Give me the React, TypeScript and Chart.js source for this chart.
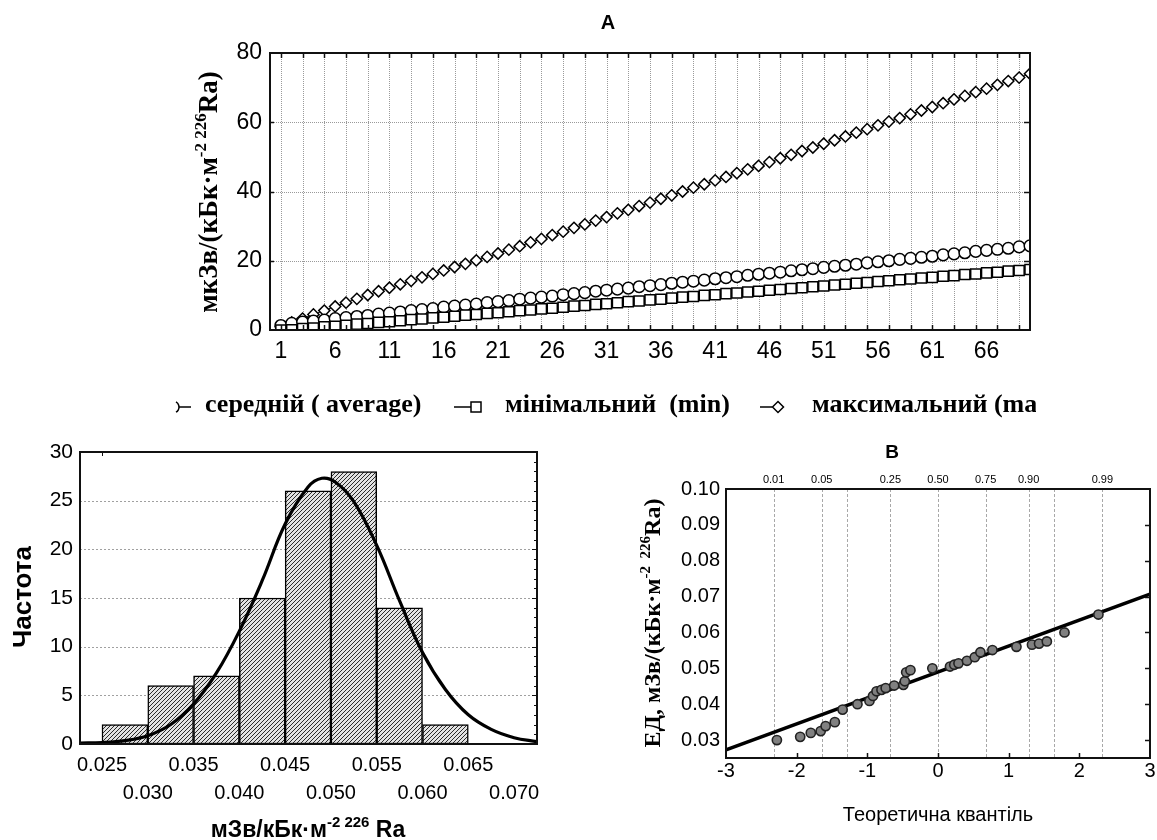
import React, { useEffect, useRef } from 'react';
import { Chart, registerables } from 'chart.js';

Chart.register(...registerables);

const SANS = '"Liberation Sans", Arial, sans-serif';
const SERIF = '"Liberation Serif", "Times New Roman", serif';

// ---------------- Chart A : dose by index ----------------
const indexA = [
  1, 2, 3, 4, 5, 6, 7, 8, 9, 10, 11, 12, 13, 14, 15, 16, 17, 18, 19, 20,
  21, 22, 23, 24, 25, 26, 27, 28, 29, 30, 31, 32, 33, 34, 35, 36, 37, 38, 39, 40,
  41, 42, 43, 44, 45, 46, 47, 48, 49, 50, 51, 52, 53, 54, 55, 56, 57, 58, 59, 60,
  61, 62, 63, 64, 65, 66, 67, 68, 69, 70,
];
const avgDose = [
  1.3, 1.9, 2.3, 2.6, 2.9, 3.3, 3.6, 3.9, 4.2, 4.6,
  4.9, 5.2, 5.6, 5.9, 6.2, 6.6, 6.9, 7.2, 7.5, 7.9,
  8.2, 8.5, 8.9, 9.2, 9.5, 9.8, 10.2, 10.5, 10.8, 11.2,
  11.5, 11.8, 12.1, 12.5, 12.8, 13.1, 13.5, 13.8, 14.1, 14.4,
  14.8, 15.1, 15.4, 15.8, 16.1, 16.4, 16.7, 17.1, 17.4, 17.7,
  18.1, 18.4, 18.7, 19.0, 19.4, 19.7, 20.0, 20.4, 20.7, 21.0,
  21.3, 21.7, 22.0, 22.3, 22.7, 23.0, 23.3, 23.6, 24.0, 24.3,
];
const minDose = [
  0.0, 0.1, 0.4, 0.6, 0.9, 1.1, 1.4, 1.7, 1.9, 2.2,
  2.4, 2.7, 3.0, 3.2, 3.5, 3.7, 4.0, 4.3, 4.5, 4.8,
  5.0, 5.3, 5.6, 5.8, 6.1, 6.3, 6.6, 6.9, 7.1, 7.4,
  7.6, 7.9, 8.2, 8.4, 8.7, 8.9, 9.2, 9.5, 9.7, 10.0,
  10.2, 10.5, 10.7, 11.0, 11.2, 11.5, 11.7, 12.0, 12.2, 12.5,
  12.7, 13.0, 13.2, 13.5, 13.7, 14.0, 14.2, 14.5, 14.7, 15.0,
  15.2, 15.5, 15.7, 16.0, 16.2, 16.5, 16.7, 17.0, 17.2, 17.5,
];
const maxDose = [
  1.0, 2.2, 3.3, 4.5, 5.6, 6.8, 7.9, 9.0, 10.1, 11.2,
  12.2, 13.2, 14.2, 15.2, 16.2, 17.2, 18.2, 19.1, 20.1, 21.1,
  22.1, 23.2, 24.2, 25.3, 26.3, 27.4, 28.4, 29.5, 30.5, 31.6,
  32.6, 33.7, 34.7, 35.8, 36.8, 37.9, 38.9, 40.0, 41.1, 42.1,
  43.2, 44.2, 45.3, 46.4, 47.4, 48.5, 49.6, 50.6, 51.7, 52.7,
  53.8, 54.8, 55.9, 57.0, 58.0, 59.1, 60.2, 61.2, 62.3, 63.4,
  64.4, 65.5, 66.6, 67.6, 68.7, 69.7, 70.8, 71.9, 72.9, 74.0,
];
const xLabelsA = [1, 6, 11, 16, 21, 26, 31, 36, 41, 46, 51, 56, 61, 66];
const xGridA = [1, 3, 5, 7, 9, 11, 13, 15, 17, 19, 21, 23, 25, 27, 29, 31, 33, 35, 37, 39, 41, 43, 45, 47, 49, 51, 53, 55, 57, 59, 61, 63, 65, 67, 69];
const yTicksA = [0, 20, 40, 60, 80];
const legendLabelsA = ['середній ( average)', 'мінімальний  (min)', 'максимальний (max)'];

// ---------------- Chart B : histogram ----------------
const binStarts = [0.025, 0.03, 0.035, 0.04, 0.045, 0.05, 0.055, 0.06];
const binCounts = [2, 6, 7, 15, 26, 28, 14, 2];
const binWidth = 0.005;
const curveX = [0.0226, 0.025, 0.0275, 0.03, 0.0325, 0.035, 0.0375, 0.04, 0.0425, 0.045, 0.0475, 0.049, 0.0505, 0.0525, 0.055, 0.0575, 0.06, 0.0625, 0.065, 0.0675, 0.07, 0.0725];
const curveY = [0.1, 0.15, 0.35, 0.85, 2.0, 4.1, 7.3, 11.6, 16.8, 22.6, 26.4, 27.3, 26.9, 24.9, 20.4, 14.7, 9.4, 5.6, 3.0, 1.5, 0.65, 0.25];
const histXTicks = [0.025, 0.03, 0.035, 0.04, 0.045, 0.05, 0.055, 0.06, 0.065, 0.07];
const histYTicks = [0, 5, 10, 15, 20, 25, 30];

// ---------------- Chart C : normal probability plot ----------------
const qqTheoretical = [-2.28, -1.95, -1.8, -1.66, -1.59, -1.46, -1.35, -1.14, -0.97, -0.92, -0.87, -0.8, -0.74, -0.62, -0.49, -0.47, -0.45, -0.39, -0.08, 0.17, 0.23, 0.29, 0.41, 0.52, 0.6, 0.77, 1.11, 1.33, 1.43, 1.54, 1.79, 2.27];
const qqObserved = [0.03, 0.0309, 0.032, 0.0325, 0.0339, 0.035, 0.0385, 0.04, 0.0409, 0.0423, 0.0436, 0.044, 0.0445, 0.0452, 0.0454, 0.0464, 0.0489, 0.0495, 0.05, 0.0505, 0.051, 0.0514, 0.0521, 0.0531, 0.0545, 0.0551, 0.056, 0.0566, 0.0569, 0.0575, 0.06, 0.065];
const fitX = [-3, 3];
const fitY = [0.0273, 0.0707];
const probZ = [-2.326, -1.645, -1.282, -0.674, 0, 0.674, 1.282, 1.645, 2.326];
const probLabels = ['0.01', '0.05', '', '0.25', '0.50', '0.75', '0.90', '', '0.99'];
const probXTicks = [-3, -2, -1, 0, 1, 2, 3];
const probYTicks = [0.03, 0.04, 0.05, 0.06, 0.07, 0.08, 0.09, 0.1];

type Seg = { t: string; sup?: boolean };

function drawRich(ctx: CanvasRenderingContext2D, segs: Seg[], cx: number, cy: number, size: number, family: string, weight: string, rotate: boolean) {
  ctx.save();
  const supSize = Math.round(size * 0.64);
  const fN = `${weight} ${size}px ${family}`;
  const fS = `${weight} ${supSize}px ${family}`;
  let total = 0;
  const widths = segs.map((s) => {
    ctx.font = s.sup ? fS : fN;
    const w = ctx.measureText(s.t).width;
    total += w;
    return w;
  });
  ctx.translate(cx, cy);
  if (rotate) ctx.rotate(-Math.PI / 2);
  ctx.fillStyle = '#000';
  ctx.textAlign = 'left';
  ctx.textBaseline = 'alphabetic';
  let x = -total / 2;
  const base = size * 0.34;
  segs.forEach((s, i) => {
    ctx.font = s.sup ? fS : fN;
    ctx.fillText(s.t, x, s.sup ? base - size * 0.42 : base);
    x += widths[i];
  });
  ctx.restore();
}

function seg(ctx: CanvasRenderingContext2D, x1: number, y1: number, x2: number, y2: number) {
  ctx.beginPath();
  ctx.moveTo(x1, y1);
  ctx.lineTo(x2, y2);
  ctx.stroke();
}

function frame(ctx: CanvasRenderingContext2D, a: any) {
  ctx.save();
  ctx.setLineDash([]);
  ctx.strokeStyle = '#111';
  ctx.lineWidth = 2;
  ctx.strokeRect(a.left, a.top, a.right - a.left, a.bottom - a.top);
  ctx.restore();
}

function text(ctx: CanvasRenderingContext2D, s: string, x: number, y: number, font: string, align: CanvasTextAlign = 'center') {
  ctx.save();
  ctx.font = font;
  ctx.fillStyle = '#000';
  ctx.textAlign = align;
  ctx.textBaseline = 'middle';
  ctx.fillText(s, x, y);
  ctx.restore();
}

const plotA = {
  id: 'plotA',
  beforeDatasetsDraw(chart: any) {
    const { ctx, chartArea: a, scales } = chart;
    const x = scales.x, y = scales.y;
    ctx.save();
    ctx.strokeStyle = '#9a9a9a';
    ctx.lineWidth = 1;
    ctx.setLineDash([1, 1]);
    xGridA.forEach((v) => {
      const px = Math.round(x.getPixelForValue(v)) + 0.5;
      seg(ctx, px, a.top, px, a.bottom);
    });
    yTicksA.slice(1, -1).forEach((v) => {
      const py = Math.round(y.getPixelForValue(v)) + 0.5;
      seg(ctx, a.left, py, a.right, py);
    });
    ctx.restore();
  },
  afterDatasetsDraw(chart: any) {
    const { ctx, chartArea: a, scales } = chart;
    const x = scales.x, y = scales.y;
    frame(ctx, a);
    ctx.save();
    ctx.strokeStyle = '#111';
    ctx.lineWidth = 1.5;
    xGridA.forEach((v) => {
      const px = Math.round(x.getPixelForValue(v)) + 0.5;
      seg(ctx, px, a.top, px, a.top + 5);
      seg(ctx, px, a.bottom, px, a.bottom - 5);
    });
    yTicksA.slice(1, -1).forEach((v) => {
      const py = Math.round(y.getPixelForValue(v)) + 0.5;
      seg(ctx, a.right, py, a.right - 6, py);
      seg(ctx, a.left, py, a.left + 4, py);
    });
    ctx.restore();
  },
  afterDraw(chart: any) {
    const { ctx } = chart;
    text(ctx, 'A', 608, 23, `bold 20px ${SANS}`);
    drawRich(ctx, [{ t: 'мкЗв/(кБк·м' }, { t: '-2 226', sup: true }, { t: 'Ra)' }], 208, 192, 27, SERIF, 'bold', true);
    // legend (clipped at right like the original)
    ctx.save();
    ctx.beginPath();
    ctx.rect(0, 380, 1036, 50);
    ctx.clip();
    ctx.strokeStyle = '#000';
    ctx.lineWidth = 1.5;
    const ly = 407;
    ctx.beginPath();
    ctx.arc(173, ly, 6, -Math.PI / 3, Math.PI / 3);
    ctx.stroke();
    seg(ctx, 179, ly, 191, ly);
    seg(ctx, 454, ly, 471, ly);
    ctx.fillStyle = '#fff';
    ctx.fillRect(471, ly - 5, 10, 10);
    ctx.strokeRect(471, ly - 5, 10, 10);
    seg(ctx, 760, ly, 772, ly);
    ctx.beginPath();
    ctx.moveTo(778, ly - 5.5);
    ctx.lineTo(783.5, ly);
    ctx.lineTo(778, ly + 5.5);
    ctx.lineTo(772.5, ly);
    ctx.closePath();
    ctx.fill();
    ctx.stroke();
    ctx.font = `bold 26px ${SERIF}`;
    ctx.fillStyle = '#000';
    ctx.textAlign = 'left';
    ctx.textBaseline = 'alphabetic';
    ctx.fillText(legendLabelsA[0], 205, 412);
    ctx.fillText(legendLabelsA[1], 505, 412);
    ctx.fillText(legendLabelsA[2], 812, 412);
    ctx.restore();
  },
};

const plotB = {
  id: 'plotB',
  beforeDatasetsDraw(chart: any) {
    const { ctx, chartArea: a, scales } = chart;
    const y = scales.y;
    ctx.save();
    ctx.strokeStyle = '#a0a0a0';
    ctx.lineWidth = 1;
    ctx.setLineDash([2, 2]);
    histYTicks.slice(1, -1).forEach((v) => {
      const py = Math.round(y.getPixelForValue(v)) + 0.5;
      seg(ctx, a.left, py, a.right, py);
    });
    ctx.restore();
  },
  afterDatasetsDraw(chart: any) {
    const { ctx, chartArea: a, scales } = chart;
    const y = scales.y, x = scales.x;
    frame(ctx, a);
    ctx.save();
    ctx.strokeStyle = '#111';
    ctx.lineWidth = 1;
    for (let v = 1; v < 30; v++) {
      const py = Math.round(y.getPixelForValue(v)) + 0.5;
      seg(ctx, a.right, py, a.right - (v % 5 === 0 ? 5 : 3), py);
    }
    const px = Math.round(x.getPixelForValue(histXTicks[0])) + 0.5;
    seg(ctx, px, a.top, px, a.top + 4);
    ctx.restore();
  },
  afterDraw(chart: any) {
    const { ctx } = chart;
    drawRich(ctx, [{ t: 'Частота' }], 22, 597, 26, SANS, 'bold', true);
    drawRich(ctx, [{ t: 'мЗв/кБк·м' }, { t: '-2 226', sup: true }, { t: ' Ra' }], 308, 829, 23, SANS, 'bold', false);
  },
};

const plotC = {
  id: 'plotC',
  beforeDatasetsDraw(chart: any) {
    const { ctx, chartArea: a, scales } = chart;
    const x = scales.x;
    ctx.save();
    ctx.strokeStyle = '#a8a8a8';
    ctx.lineWidth = 1;
    ctx.setLineDash([3, 2]);
    probZ.forEach((z) => {
      const px = Math.round(x.getPixelForValue(z)) + 0.5;
      seg(ctx, px, a.top, px, a.bottom);
    });
    ctx.restore();
  },
  afterDatasetsDraw(chart: any) {
    const { ctx, chartArea: a, scales } = chart;
    const x = scales.x, y = scales.y;
    frame(ctx, a);
    ctx.save();
    ctx.strokeStyle = '#111';
    ctx.lineWidth = 1.5;
    probXTicks.slice(1, -1).forEach((v) => {
      const px = Math.round(x.getPixelForValue(v)) + 0.5;
      seg(ctx, px, a.bottom, px, a.bottom - 5);
    });
    probYTicks.slice(0, -1).forEach((v) => {
      const py = Math.round(y.getPixelForValue(v)) + 0.5;
      seg(ctx, a.right, py, a.right - 5, py);
    });
    ctx.restore();
  },
  afterDraw(chart: any) {
    const { ctx, scales } = chart;
    const x = scales.x;
    probZ.forEach((z, i) => {
      if (probLabels[i]) text(ctx, probLabels[i], x.getPixelForValue(z), 480, `11px ${SANS}`);
    });
    text(ctx, 'B', 892, 453, `bold 19px ${SANS}`);
    text(ctx, 'Теоретична квантіль', 938, 815, `20px ${SANS}`);
    drawRich(ctx, [{ t: 'ЕД, мЗв/(кБк·м' }, { t: '-2  226', sup: true }, { t: 'Ra)' }], 652, 623, 24, SERIF, 'bold', true);
  },
};

function makeHatch(): CanvasPattern | string {
  const c = document.createElement('canvas');
  c.width = 4;
  c.height = 4;
  const g = c.getContext('2d');
  if (!g) return '#aaa';
  g.fillStyle = '#e2e2e2';
  g.fillRect(0, 0, 4, 4);
  g.strokeStyle = '#2a2a2a';
  g.lineWidth = 1;
  g.beginPath();
  g.moveTo(0, 4);
  g.lineTo(4, 0);
  g.moveTo(-1, 1);
  g.lineTo(1, -1);
  g.moveTo(3, 5);
  g.lineTo(5, 3);
  g.stroke();
  return g.createPattern(c, 'repeat') || '#aaa';
}

const tickFont = (size: number) => ({ family: SANS, size, weight: 'normal' as const });
const noGrid = { display: false, drawTicks: false, tickLength: 0 };

export default function App() {
  const refA = useRef<HTMLCanvasElement>(null);
  const refB = useRef<HTMLCanvasElement>(null);
  const refC = useRef<HTMLCanvasElement>(null);

  useEffect(() => {
    const charts: Chart[] = [];
    const common = {
      responsive: false,
      animation: false as const,
      devicePixelRatio: 1,
      events: [] as any[],
    };

    // ---- Chart A
    charts.push(
      new Chart(refA.current!, {
        type: 'line',
        data: {
          datasets: [
            {
              label: legendLabelsA[0],
              data: indexA.map((v, i) => ({ x: v, y: avgDose[i] })),
              pointStyle: 'circle',
              pointRadius: 5.8,
              order: 1,
            },
            {
              label: legendLabelsA[1],
              data: indexA.map((v, i) => ({ x: v, y: minDose[i] })),
              pointStyle: 'rect',
              pointRadius: 7.1,
              order: 0,
            },
            {
              label: legendLabelsA[2],
              data: indexA.map((v, i) => ({ x: v, y: maxDose[i] })),
              pointStyle: 'rectRot',
              pointRadius: 5.6,
              order: 2,
            },
          ].map((d) => ({
            ...d,
            borderColor: '#000',
            borderWidth: 1,
            pointBackgroundColor: '#fff',
            pointBorderColor: '#000',
            pointBorderWidth: 1.5,
            tension: 0,
            clip: 0,
          })) as any,
        },
        options: {
          ...common,
          layout: { padding: { left: 0, top: 53, right: 127, bottom: 470 } },
          plugins: { legend: { display: false }, tooltip: { enabled: false } },
          scales: {
            x: {
              type: 'linear',
              min: 0,
              max: 70,
              grid: noGrid,
              border: { display: false },
              afterBuildTicks: (s: any) => {
                s.ticks = xLabelsA.map((v) => ({ value: v }));
              },
              afterFit: (s: any) => {
                s.height = 40;
              },
              ticks: { autoSkip: false, maxRotation: 0, minRotation: 0, padding: 8, color: '#000', font: tickFont(23), callback: (v: any) => String(v) },
            },
            y: {
              type: 'linear',
              min: 0,
              max: 80,
              grid: noGrid,
              border: { display: false },
              afterBuildTicks: (s: any) => {
                s.ticks = yTicksA.map((v) => ({ value: v }));
              },
              afterFit: (s: any) => {
                s.width = 270;
              },
              ticks: { padding: 8, color: '#000', font: tickFont(23), callback: (v: any) => String(v) },
            },
          },
        } as any,
        plugins: [plotA],
      })
    );

    // ---- Chart B
    const hatch = makeHatch();
    charts.push(
      new Chart(refB.current!, {
        type: 'bar',
        data: {
          datasets: [
            {
              type: 'line',
              data: curveX.map((v, i) => ({ x: v, y: curveY[i] })),
              borderColor: '#000',
              borderWidth: 3.2,
              pointRadius: 0,
              tension: 0.4,
              clip: 0,
              order: 0,
            },
            {
              type: 'bar',
              data: binStarts.map((s, i) => ({ x: s + binWidth / 2, y: binCounts[i] })),
              backgroundColor: hatch,
              borderColor: '#000',
              borderWidth: 1.5,
              borderSkipped: false,
              barPercentage: 1,
              categoryPercentage: 1,
              order: 1,
            },
          ] as any,
        },
        options: {
          ...common,
          layout: { padding: { left: 0, top: 452, right: 620, bottom: 16 } },
          plugins: { legend: { display: false }, tooltip: { enabled: false } },
          scales: {
            x: {
              type: 'linear',
              offset: false,
              min: 0.0226,
              max: 0.0725,
              grid: { ...noGrid, offset: false },
              border: { display: false },
              afterBuildTicks: (s: any) => {
                s.ticks = histXTicks.map((v) => ({ value: v }));
              },
              afterFit: (s: any) => {
                s.height = 80;
              },
              ticks: {
                autoSkip: false,
                maxRotation: 0,
                minRotation: 0,
                padding: 7,
                color: '#000',
                font: { ...tickFont(20), lineHeight: 1.4 },
                callback: (v: any, i: number) => (i % 2 === 0 ? [Number(v).toFixed(3), ''] : ['', Number(v).toFixed(3)]),
              },
            },
            y: {
              type: 'linear',
              min: 0,
              max: 30,
              grid: noGrid,
              border: { display: false },
              afterBuildTicks: (s: any) => {
                s.ticks = histYTicks.map((v) => ({ value: v }));
              },
              afterFit: (s: any) => {
                s.width = 80;
              },
              ticks: { padding: 7, color: '#000', font: tickFont(21), callback: (v: any) => String(v) },
            },
          },
        } as any,
        plugins: [plotB],
      })
    );

    // ---- Chart C
    charts.push(
      new Chart(refC.current!, {
        type: 'scatter',
        data: {
          datasets: [
            {
              data: qqTheoretical.map((v, i) => ({ x: v, y: qqObserved[i] })),
              pointRadius: 4.6,
              pointBackgroundColor: '#808080',
              pointBorderColor: '#222',
              pointBorderWidth: 1.6,
              showLine: false,
              clip: 0,
              order: 0,
            },
            {
              type: 'line',
              data: fitX.map((v, i) => ({ x: v, y: fitY[i] })),
              borderColor: '#000',
              borderWidth: 3.5,
              pointRadius: 0,
              clip: 0,
              order: 1,
            },
          ] as any,
        },
        options: {
          ...common,
          layout: { padding: { left: 0, top: 489, right: 7, bottom: 42 } },
          plugins: { legend: { display: false }, tooltip: { enabled: false } },
          scales: {
            x: {
              type: 'linear',
              min: -3,
              max: 3,
              grid: noGrid,
              border: { display: false },
              afterBuildTicks: (s: any) => {
                s.ticks = probXTicks.map((v) => ({ value: v }));
              },
              afterFit: (s: any) => {
                s.height = 40;
              },
              ticks: { autoSkip: false, maxRotation: 0, minRotation: 0, padding: 1, color: '#000', font: tickFont(20), callback: (v: any) => String(v) },
            },
            y: {
              type: 'linear',
              min: 0.025,
              max: 0.1,
              grid: noGrid,
              border: { display: false },
              afterBuildTicks: (s: any) => {
                s.ticks = probYTicks.map((v) => ({ value: v }));
              },
              afterFit: (s: any) => {
                s.width = 726;
              },
              ticks: { padding: 6, color: '#000', font: tickFont(20), callback: (v: any) => Number(v).toFixed(2) },
            },
          },
        } as any,
        plugins: [plotC],
      })
    );

    return () => {
      charts.forEach((c) => c.destroy());
    };
  }, []);

  const cstyle: React.CSSProperties = { position: 'absolute', left: 0, top: 0 };
  return (
    <div style={{ position: 'fixed', left: 0, top: 0, width: 1157, height: 840, overflow: 'hidden', background: '#fff' }}>
      <canvas ref={refA} width={1157} height={840} style={cstyle} />
      <canvas ref={refB} width={1157} height={840} style={cstyle} />
      <canvas ref={refC} width={1157} height={840} style={cstyle} />
    </div>
  );
}
